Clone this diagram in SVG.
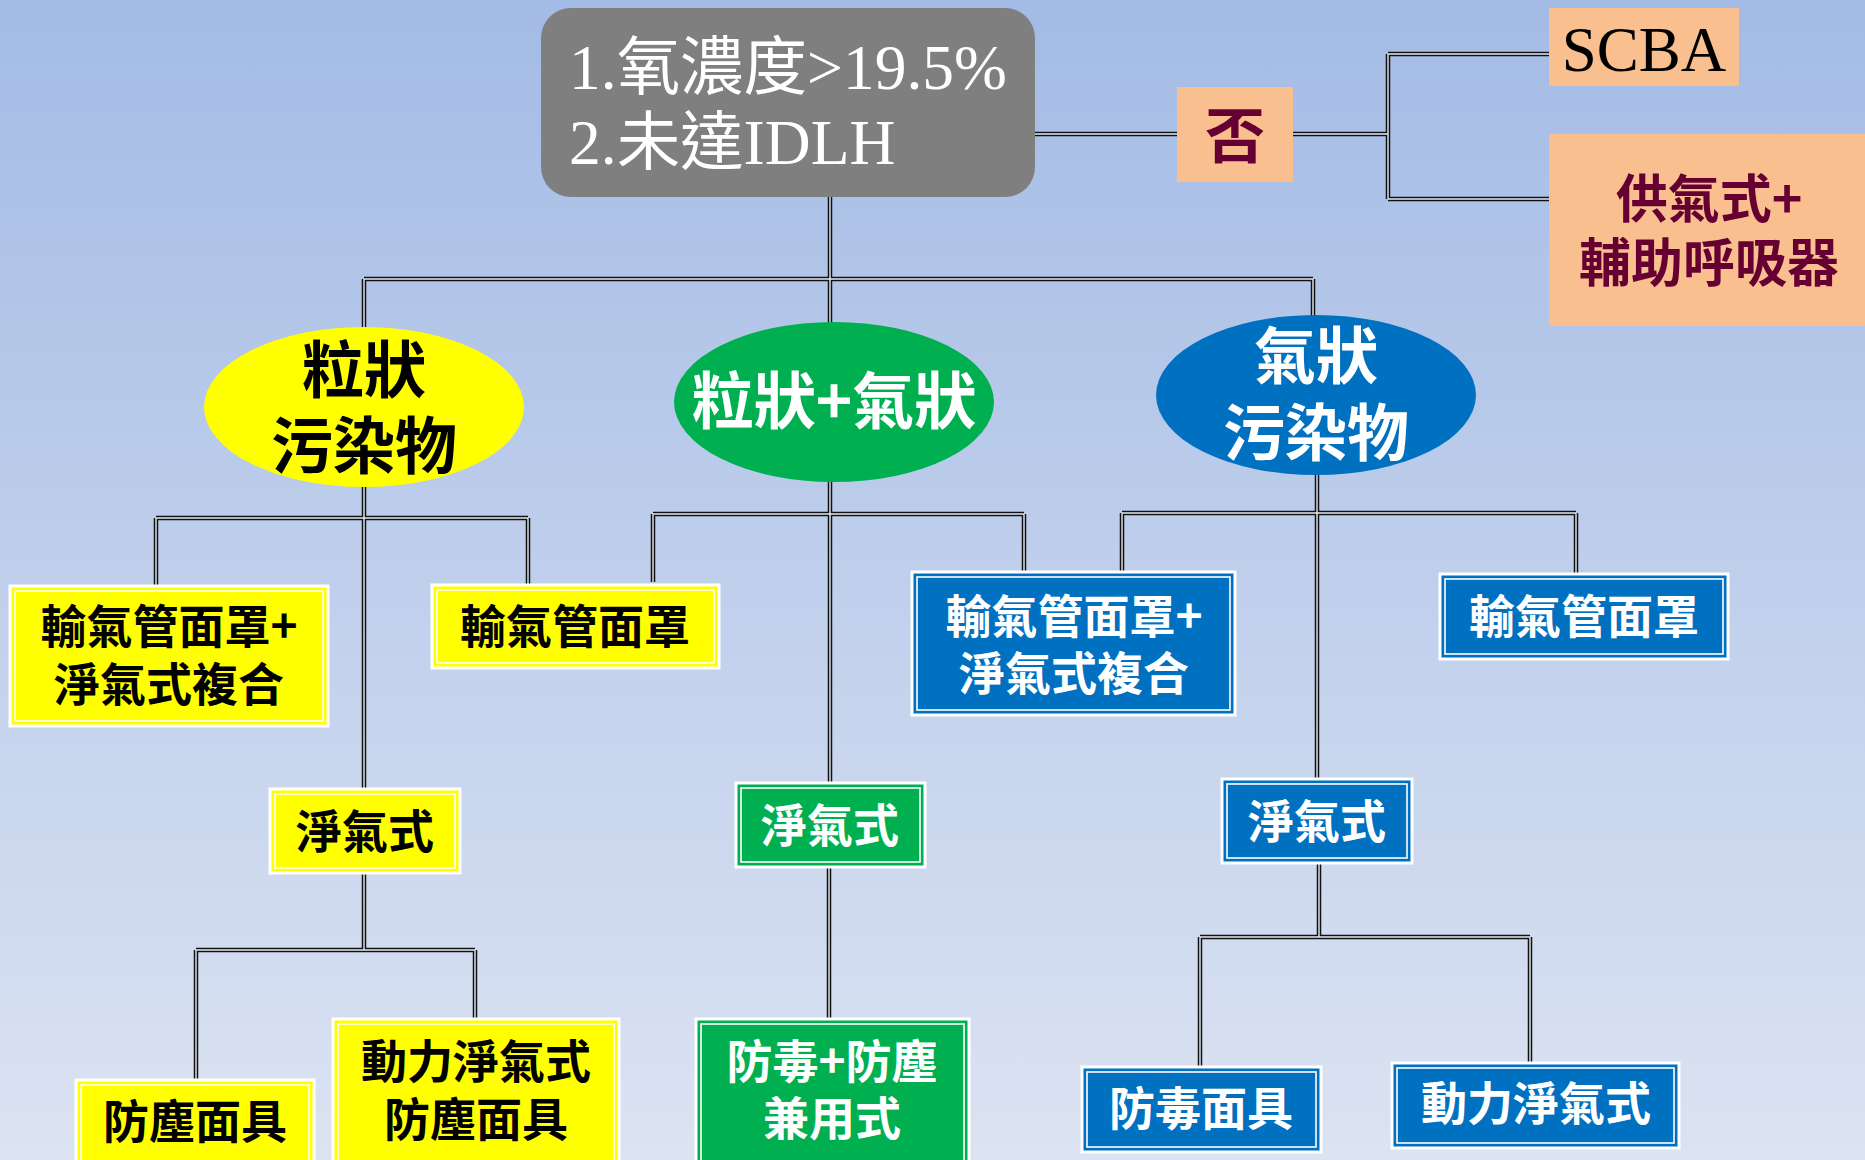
<svg xmlns="http://www.w3.org/2000/svg" xmlns:xlink="http://www.w3.org/1999/xlink" width="1865" height="1160" viewBox="0 0 1865 1160">
<defs>
<linearGradient id="bg" x1="0" y1="0" x2="0" y2="1">
<stop offset="0" stop-color="#a3bbe5"/>
<stop offset="1" stop-color="#dce3f2"/>
</linearGradient>
<style>
.cj{font-family:"Noto Sans CJK TC","Noto Sans CJK JP",sans-serif;font-weight:bold;text-anchor:middle}
.tb{font-size:46px}
.el{font-size:62px}
.w{fill:#ffffff}
.k{fill:#000000}
.m{fill:#660033}
.y{fill:#ffff00}
.g{fill:#00b050}
.b{fill:#0070c0}
.box{stroke:#ffffff;stroke-width:3}
.inn{fill:none;stroke:#ffffff;stroke-width:1.6}
.co{fill:none;stroke:#111111;stroke-width:4.5}
.ci{fill:none;stroke:#e6ebf6;stroke-width:1.4}
.pe{fill:#f9bf8f}
.gt{font-family:"Liberation Serif","Noto Sans CJK TC",serif;font-size:63.5px;fill:#ffffff}
</style>
<path id="cpath" d="M1035,134 H1177 M1293,134 H1388 M1388,54 V199 M1388,54 H1549 M1388,199 H1549
M830,197 V330 M364,279 H1313 M364,279 V340 M1313,279 V330
M364,470 V790 M156,518 H528 M156,518 V586 M528,518 V585
M830,470 V784 M653,514 H1024 M653,514 V582 M1024,514 V572
M1317,465 V779 M1122,513 H1576 M1122,513 V572 M1576,513 V574
M364,873 V950 M196,950 H475 M196,950 V1080 M475,950 V1019
M829,866 V1019
M1319,862 V937 M1200,937 H1530 M1200,937 V1067 M1530,937 V1063"/>
</defs>
<rect x="0" y="0" width="1865" height="1160" fill="url(#bg)"/>

<g id="connectors">
<use xlink:href="#cpath" href="#cpath" class="co"/>
<use xlink:href="#cpath" href="#cpath" class="ci"/>
</g>

<g id="condition">
<rect x="541" y="8" width="494" height="189" rx="30" fill="#7f7f7f"/>
<text x="569" y="89" class="gt">1.氧濃度&gt;19.5%</text>
<text x="569" y="164" class="gt">2.未達IDLH</text>
</g>

<g id="no">
<rect x="1177" y="87" width="116" height="95" class="pe"/>
<text x="1235" y="158" class="cj m" font-size="60">否</text>
</g>

<g id="scba">
<rect x="1549" y="8" width="190" height="78" class="pe"/>
<text x="1644" y="71" font-size="63" fill="#000" text-anchor="middle" font-family="Liberation Serif,serif">SCBA</text>
</g>

<g id="supplied">
<rect x="1549" y="134" width="316" height="192" class="pe"/>
<text x="1709" y="218" class="cj m" font-size="52">供氣式+</text>
<text x="1709" y="282" class="cj m" font-size="52">輔助呼吸器</text>
</g>

<g id="particulate">
<ellipse cx="364" cy="407" rx="160" ry="80" class="y"/>
<text x="364" y="393" class="cj el k">粒狀</text>
<text x="364" y="469" class="cj el k">污染物</text>
</g>

<g id="mixed">
<ellipse cx="834" cy="402" rx="160" ry="80" class="g"/>
<text x="834" y="424" class="cj el w">粒狀+氣狀</text>
</g>

<g id="gaseous">
<ellipse cx="1316" cy="395" rx="160" ry="80" class="b"/>
<text x="1316" y="379" class="cj el w">氣狀</text>
<text x="1316" y="456" class="cj el w">污染物</text>
</g>

<g id="y1">
<rect x="10" y="586" width="318" height="140" class="y box"/>
<rect x="15" y="591" width="308" height="130" class="inn"/>
<text x="169" y="643" class="cj tb k">輸氣管面罩+</text>
<text x="169" y="701" class="cj tb k">淨氣式複合</text>
</g>

<g id="y2">
<rect x="432" y="585" width="287" height="83" class="y box"/>
<rect x="437" y="590" width="277" height="73" class="inn"/>
<text x="575" y="643" class="cj tb k">輸氣管面罩</text>
</g>

<g id="y3">
<rect x="270" y="789" width="190" height="84" class="y box"/>
<rect x="275" y="794" width="180" height="74" class="inn"/>
<text x="365" y="848" class="cj tb k">淨氣式</text>
</g>

<g id="y4">
<rect x="76" y="1080" width="238" height="92" class="y box"/>
<rect x="81" y="1085" width="228" height="82" class="inn"/>
<text x="195" y="1138" class="cj tb k">防塵面具</text>
</g>

<g id="y5">
<rect x="333" y="1019" width="286" height="152" class="y box"/>
<rect x="338" y="1024" width="276" height="142" class="inn"/>
<text x="476" y="1078" class="cj tb k">動力淨氣式</text>
<text x="476" y="1136" class="cj tb k">防塵面具</text>
</g>

<g id="g1">
<rect x="736" y="783" width="189" height="84" class="g box"/>
<rect x="741" y="788" width="179" height="74" class="inn"/>
<text x="830" y="842" class="cj tb w">淨氣式</text>
</g>

<g id="g2">
<rect x="696" y="1019" width="273" height="152" class="g box"/>
<rect x="701" y="1024" width="263" height="142" class="inn"/>
<text x="832" y="1078" class="cj tb w">防毒+防塵</text>
<text x="832" y="1135" class="cj tb w">兼用式</text>
</g>

<g id="b1">
<rect x="912" y="572" width="323" height="143" class="b box"/>
<rect x="917" y="577" width="313" height="133" class="inn"/>
<text x="1074" y="633" class="cj tb w">輸氣管面罩+</text>
<text x="1074" y="690" class="cj tb w">淨氣式複合</text>
</g>

<g id="b2">
<rect x="1440" y="574" width="288" height="85" class="b box"/>
<rect x="1445" y="579" width="278" height="75" class="inn"/>
<text x="1584" y="633" class="cj tb w">輸氣管面罩</text>
</g>

<g id="b3">
<rect x="1222" y="779" width="190" height="84" class="b box"/>
<rect x="1227" y="784" width="180" height="74" class="inn"/>
<text x="1317" y="838" class="cj tb w">淨氣式</text>
</g>

<g id="b4">
<rect x="1082" y="1067" width="239" height="85" class="b box"/>
<rect x="1087" y="1072" width="229" height="75" class="inn"/>
<text x="1201" y="1125" class="cj tb w">防毒面具</text>
</g>

<g id="b5">
<rect x="1392" y="1063" width="287" height="85" class="b box"/>
<rect x="1397" y="1068" width="277" height="75" class="inn"/>
<text x="1536" y="1120" class="cj tb w">動力淨氣式</text>
</g>
</svg>
